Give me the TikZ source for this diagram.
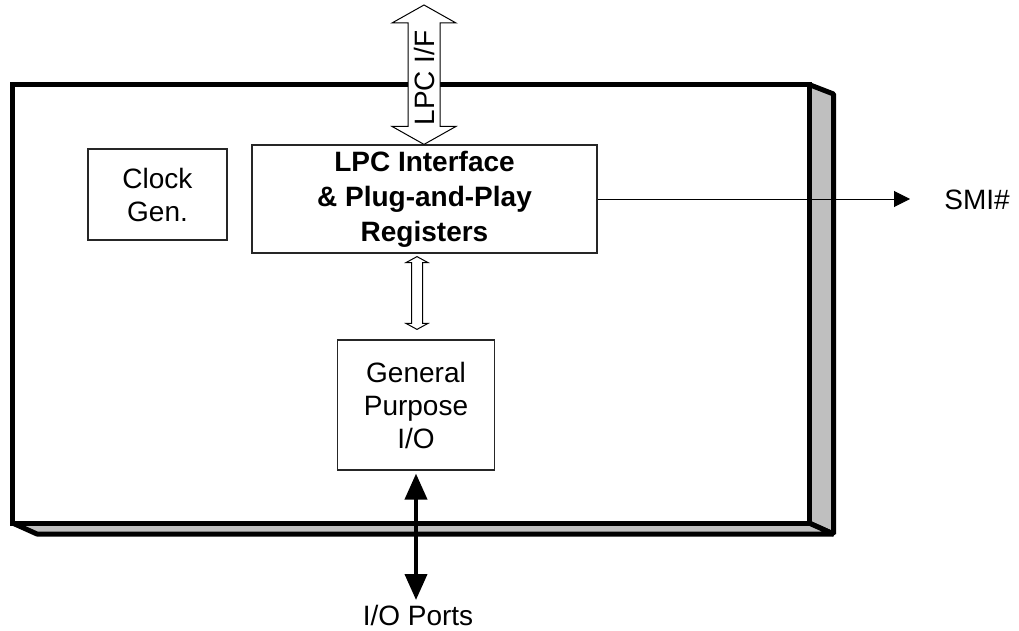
\documentclass[tikz,border=0pt]{standalone}
\usepackage{fontspec}
\setmainfont{Liberation Sans}
\usetikzlibrary{arrows.meta,calc}

\tikzset{
  blk/.style={draw=black!85,line width=1.2pt,fill=white,align=center,inner sep=0pt,
    font=\fontsize{28}{33}\selectfont},
  chipline/.style={line width=5pt,line join=miter},
  sideface/.style={line width=5pt,line join=bevel,fill=black!25},
}
% vertical hollow double arrow: top, bottom, shaft half width, head half width, head length
\newcommand{\hollowarrow}[5]{%
  \draw[line width=1pt,fill=white] let \p1=(#1), \p2=(#2) in
    (\x1,\y1) -- (\x1+#4,\y1-#5) -- (\x1+#3,\y1-#5) -- (\x1+#3,\y2+#5) -- (\x1+#4,\y2+#5)
    -- (\x1,\y2) -- (\x1-#4,\y2+#5) -- (\x1-#3,\y2+#5) -- (\x1-#3,\y1-#5) -- (\x1-#4,\y1-#5) -- cycle;}

\begin{document}
\begin{tikzpicture}[x=1pt,y=-1pt]
			\useasboundingbox (0,0) rectangle (1019,631);
			% chip outline with side faces
			\draw[sideface] (809,84.5) -- (833.5,94) -- (833.5,534) -- (809,523) -- cycle;
			\draw[sideface] (12.5,523) -- (37,534) -- (833.5,534) -- (809,523) -- cycle;
			\draw[chipline,fill=white] (12.5,84.5) rectangle (809,523);
			% blocks
			\node[blk,minimum width=139,minimum height=91] (clk) at (157.5,194.5) {Clock\\Gen.};
			\node[blk,minimum width=345,minimum height=108,font=\fontsize{28}{35}\selectfont\bfseries]
				(lpc) at (424.5,199) {LPC Interface\\\& Plug-and-Play\\Registers};
			\node[blk,minimum width=157,minimum height=130] (gpio) at (416,405) {General\\Purpose\\I/O};
			% bus arrows
			\coordinate (lpcbus) at (424,5);
			\hollowarrow{lpcbus}{lpc.north}{16pt}{32pt}{18pt}
			\node[rotate=90,font=\fontsize{28}{33}\selectfont] (lpclbl) at (424,78) {LPC I/F};
			\coordinate (intop) at ($(lpc.south)+(-7.5,3)$);
			\coordinate (inbot) at ($(gpio.north)+(1,-10)$);
			\hollowarrow{intop}{inbot}{5.5pt}{11pt}{6pt}
			% SMI output
			\coordinate (smitip) at (910,199);
			\draw[line width=1pt,-{Triangle[length=16pt,width=16pt]}] (lpc.east) -- (smitip);
			\node[font=\fontsize{28}{33}\selectfont] (smi) at (977,200) {SMI\#};
			% I/O ports
			\coordinate (iop) at (416,600);
			\draw[line width=4pt,{Triangle[length=26pt,width=22pt]}-{Triangle[length=26pt,width=22pt]}]
				($(gpio.south)+(0,3)$) -- (iop);
			\node[font=\fontsize{28}{33}\selectfont] (iolbl) at (418,615) {I/O Ports};
		\end{tikzpicture}
\end{document}
